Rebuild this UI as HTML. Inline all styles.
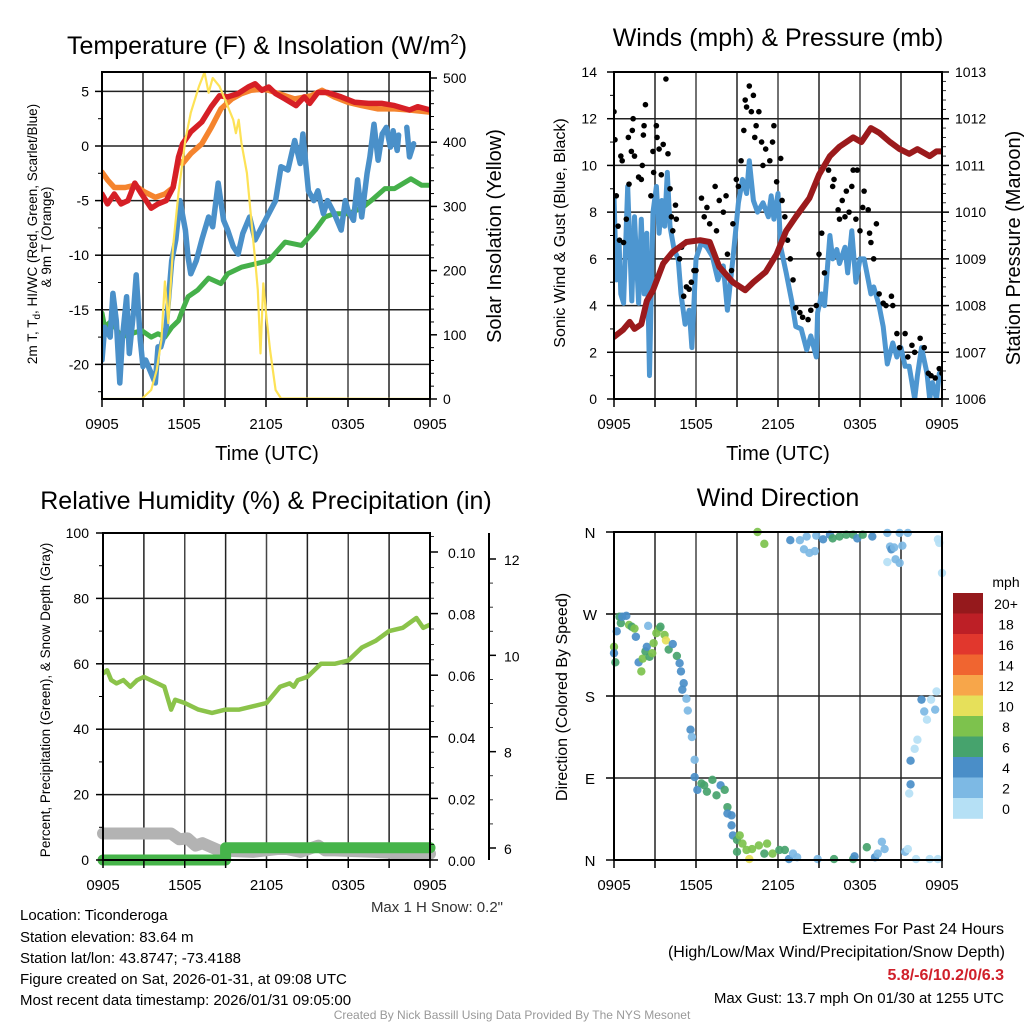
<!DOCTYPE html>
<html><head><meta charset="utf-8"><style>
html,body{margin:0;padding:0;background:#fff}
svg text{font-family:"Liberation Sans",Arial,sans-serif;fill:#000}
</style></head><body>
<svg id="svg" width="1024" height="1024" viewBox="0 0 1024 1024" xmlns="http://www.w3.org/2000/svg">
<defs>
<clipPath id="c1"><rect x="102" y="72" width="328" height="327"/></clipPath>
<clipPath id="c2"><rect x="614" y="72" width="328" height="327"/></clipPath>
<clipPath id="c3"><rect x="96" y="527" width="340" height="340"/></clipPath>
<clipPath id="c4"><rect x="608" y="526" width="340" height="340"/></clipPath>
</defs>
</svg>
<script>
// ---------- DATA (hours since 0905 UTC) ----------
const xTicks=["0905","1505","2105","0305","0905"];
// Temperature panel
const redH=[0,0.4,0.9,1.4,1.9,2.4,2.9,3.6,4.1,4.7,5.2,5.6,5.9,6.5,7.3,8.0,8.6,9.2,9.96,10.7,11.2,11.7,12.2,12.7,13.4,14.2,14.8,15.2,15.8,16.5,17.5,18.5,19.5,20.5,21.4,22.5,23.1,24];
const redT=[-4.4,-5.3,-4.4,-5.3,-5,-3.4,-4.4,-5.7,-5.3,-5,-3.8,-1,0.2,1.3,2.2,3.6,4.6,4.5,4.8,5.4,5.7,5.1,5.4,4.8,4.3,3.7,4.5,3.9,4.9,4.9,4.5,4.0,3.9,3.9,3.7,3.3,3.6,3.3];
const orH=[0,0.4,0.9,1.7,2.4,3.1,3.9,4.6,5.2,5.6,5.9,6.5,7.3,8.0,8.7,9.5,10.2,10.9,11.7,12.2,14.1,15.3,16.1,17.0,18.0,19.0,20.2,21.4,22.5,24];
const orT=[-2.4,-3.1,-3.8,-3.8,-3.6,-4.2,-4.7,-4.4,-3.8,-1.3,-1.6,-0.7,0.2,1.7,3.4,4.3,4.8,5.1,5.2,5.1,4.3,4.6,5.1,4.5,4.0,3.7,3.4,3.4,3.3,3.1];
const tdH=[0,0.2,0.7,1.4,2.1,2.9,3.6,4.1,4.6,5.1,5.6,5.9,6.3,7.0,7.8,8.7,9.2,10.2,11.2,12.2,13.4,14.6,15.6,16.3,17.0,18.0,19.0,19.7,20.7,21.4,22.6,23.4,24];
const tdT=[-15.3,-16.6,-16,-17.5,-17.2,-16.9,-17.5,-17.2,-17.5,-16.6,-16,-15,-13.8,-13.2,-12.1,-12.6,-11.7,-11.1,-10.8,-10.5,-8.8,-9.1,-7.7,-6.5,-6.2,-6.2,-5.7,-5.0,-3.9,-3.9,-3.0,-3.6,-3.6];
const wcH=[0,0.2,0.6,0.8,1.05,1.3,1.5,1.8,2.0,2.3,2.5,2.8,3.0,3.2,3.5,3.9,4.1,4.3,4.7,5.1,5.4,5.7,6.1,6.3,6.5,6.9,7.3,7.8,8.1,8.5,8.9,9.2,9.6,9.96,10.3,10.8,11.2,11.7,12.2,12.7,13.1,13.6,14.1,14.5,14.7,15.1,15.5,15.8,16.2,16.5,17.0,17.5,17.8,18.0,18.4,18.7,19.0,19.4,19.6,19.9,20.2,20.5,20.8,21.1,21.3,21.6,21.7];
const wcT=[-19.6,-16.6,-17.5,-13.5,-16,-21.7,-17.5,-13.8,-19,-15.3,-11.8,-17.8,-20.2,-19.6,-20.5,-21.7,-18.4,-18.4,-16.6,-10.5,-8.6,-5,-7.7,-10.2,-11.7,-10.5,-8.6,-6.5,-7.4,-3.4,-6.8,-7.7,-9.2,-9.9,-8,-6.5,-8.6,-7.4,-6.2,-5,-1.9,-2.2,0.5,-1.6,1.1,-4.1,-5,-4.1,-6.2,-5,-6.2,-7.7,-5,-5.9,-6.8,-3.1,-6.5,-2.5,-1,2,-1.3,1.1,1.7,-0.1,1.4,-0.4,1.0];
const wc2H=[22.3,22.5,22.8];
const wc2T=[1.7,-1,0.2];
const solH=[0,2.9,3.6,4.0,4.35,4.6,4.85,5.2,5.6,6.1,6.5,7.1,7.5,7.8,8.1,8.6,9.1,9.6,9.8,10.0,10.2,10.6,10.9,11.2,11.4,11.6,11.8,12.0,12.3,12.7,13.1,24];
const solV=[0,0,14,45,92,183,118,238,321,404,446,487,509,477,500,487,461,435,414,435,399,352,284,217,170,71,180,134,76,14,1,0];
// Winds panel
const presH=[0,0.66,1.15,1.5,2,2.4,2.85,3.6,4.3,5.3,6.3,7,7.7,8.7,9.6,10.2,11.1,11.9,12.6,13.3,14.3,15.0,15.8,16.5,17.5,18.1,18.8,19.4,20.2,20.9,21.6,22.2,23.1,23.6,24];
const presV=[1007.33,1007.48,1007.65,1007.5,1007.6,1008.1,1008.33,1008.9,1009.15,1009.36,1009.4,1009.36,1008.83,1008.5,1008.33,1008.5,1008.72,1009.1,1009.6,1009.9,1010.3,1010.8,1011.2,1011.4,1011.6,1011.5,1011.8,1011.7,1011.5,1011.35,1011.25,1011.35,1011.2,1011.3,1011.3];
const windH=[0,0.17,0.37,0.5,0.7,1.0,1.3,1.5,1.8,2.0,2.2,2.4,2.6,2.85,3.1,3.3,3.5,3.7,3.9,4.1,4.4,4.7,4.9,5.2,5.5,5.7,6.0,6.4,6.8,7.2,7.6,8.0,8.3,8.7,9.1,9.4,9.7,9.9,10.2,10.5,10.9,11.3,11.5,11.7,12.0,12.2,12.6,13.0,13.3,13.7,14.1,14.4,14.8,14.9,15.2,15.4,15.8,16.0,16.3,16.5,16.9,17.1,17.4,17.7,18.0,18.3,18.6,18.8,19.0,19.4,19.7,20.0,20.4,20.7,21.0,21.3,21.6,22.0,22.2,22.5,22.9,23.1,23.3,23.6,23.8,24];
const windV=[8.7,5.1,6.7,4.5,4.1,9.1,4.2,7.8,4.1,7.7,4.5,7.1,1.0,8.0,9.1,7.1,8.5,7.4,9.7,7.4,6.4,6.0,4.5,3.2,3.8,2.2,6.0,6.7,6.5,6.1,5.1,5.7,3.8,6.0,8.4,9.4,8.8,10.2,8.5,8.0,8.4,7.8,8.7,7.7,8.8,6.5,5.4,4.2,3.1,3.0,2.1,2.7,1.8,3.7,4.5,4.0,7.0,6.0,6.4,5.8,6.5,5.4,7.2,5.0,6.0,6.0,5.1,4.5,4.8,4.0,3.1,1.5,2.4,1.8,2.2,1.4,1.4,0,1.0,2.2,1.1,0,0.7,0,1.1,0.8];
const gustH=[0,0.07,0.17,0.3,0.4,0.5,0.6,0.7,0.9,1.05,1.1,1.27,1.34,1.4,1.5,1.8,2.0,2.07,2.2,2.15,2.3,2.7,2.85,2.9,3.1,3.15,3.3,3.46,3.6,3.8,3.95,4.1,4.2,4.3,4.5,4.56,4.8,4.95,5.1,5.3,5.5,5.66,5.85,6.0,6.4,6.6,6.8,7.0,7.4,7.5,7.7,8.0,8.2,8.3,8.6,8.7,8.95,9.1,9.3,9.5,9.6,9.7,9.9,10.05,10.2,10.3,10.4,10.6,10.8,10.9,11.1,11.4,11.6,11.7,11.9,12.2,12.3,12.5,12.7,12.9,13.1,13.3,13.6,13.8,14.2,14.4,14.8,15.0,15.2,15.4,15.7,16.0,16.1,16.4,16.5,16.7,16.9,17.0,17.2,17.4,17.5,17.7,17.8,18.0,18.2,18.3,18.6,18.7,18.8,19.0,19.2,19.4,19.7,19.9,20.3,20.4,20.7,20.9,21.3,21.5,21.8,22.0,22.4,22.7,23.0,23.2,23.5,23.8,24];
const gustV=[12.3,11.1,8.7,7.4,6.8,10.4,10.2,6.7,7.7,11.2,9.2,10.6,11.5,12.0,10.4,9.5,9.4,10.0,11.7,11.3,12.6,8.7,10.6,9.7,11.7,11.2,10.7,9.6,10.9,13.7,10.5,9.0,7.8,7.2,8.3,7.7,6.0,6.5,4.4,4.8,4.7,5.0,5.5,5.5,8.6,7.8,8.2,7.5,9.1,7.2,8.5,8.0,8.7,6.2,5.5,7.5,9.4,9.1,10.2,11.5,12.8,12.5,13.4,12.3,13.0,11.2,11.7,12.3,11.0,10.0,10.7,10.2,11.0,11.7,9.3,10.3,8.5,7.8,6.8,6.0,5.1,3.9,3.7,3.5,3.4,3.8,4.0,6.2,7.1,5.4,9.8,9.1,9.4,8.1,7.7,8.5,7.8,8.9,8.0,9.1,9.8,7.7,9.8,7.2,8.2,8.9,8.1,7.1,6.7,6.0,7.5,4.5,4.1,4.0,4.4,4.0,2.8,2.2,2.8,1.8,2.3,2.0,2.6,2.2,1.1,1.0,0.9,1.3,1.1];
// RH panel
const rhH=[0,0.3,0.6,1,1.5,2,2.5,3,3.5,4,4.5,5,5.3,6,7,8,9,10,11,12,13,13.7,14,14.3,15,16,17,18,19,20,21,22,23,23.5,24];
const rhV=[57,58,55,54,55,53,55,56,55,54,53,46,49,48,46,45,46,46,47,48,53,54,53,55,56,60,60,61,65,67,70,71,74,71,72];
const precipH=[0,9.0,9.0,24];
const precipV=[0,0,0.004,0.004];
const snowH=[0,5.0,5.6,6.2,6.8,7.3,8.5,11,12.8,13.5,14.5,15.8,16.3,17,20,22,24];
const snowV=[6.3,6.3,6.18,6.2,6.05,6.1,5.95,5.92,5.98,5.98,5.92,6.05,5.95,5.95,5.92,5.88,5.88];
// Wind direction panel
const dirH=[0,0,0.1,0.2,0.4,0.5,0.6,0.9,1.1,1.3,1.5,1.6,1.8,2.0,2.1,2.3,2.4,2.5,2.6,2.8,2.9,3.1,3.3,3.4,3.7,3.8,4.0,4.3,4.6,4.8,4.9,5.1,5.0,5.3,5.4,5.6,5.7,5.9,5.9,6.1,6.4,6.6,6.8,7.2,7.5,7.8,8.1,8.3,8.3,8.6,8.6,8.7,9.0,9.2,9.4,9.0,9.7,9.9,10.1,10.6,11.0,11.2,11.6,12.1,12.5,12.8,13.1,13.4,14.9,16.1,17.5,17.6,18.5,19.1,19.3,19.6,19.8,21.3,21.5,22.1,23.1,23.7,21.6,21.7,21.7,22.0,22.2,22.5,22.7,22.9,23.2,23.5,23.6,24.0,23.8,23.7,10.5,11.0,12.9,13.6,13.9,14.3,14.1,14.7,14.8,15.3,15.8,16.0,16.5,17.0,17.5,17.8,18.2,18.9,20.0,20.2,20.3,20.5,20.0,20.6,20.9,20.9,21.1,21.5];
const dirV=[234,227,217,251,267,260,267,268,258,256,254,245,217,207,221,229,234,257,223,227,238,249,254,256,247,241,231,237,224,216,207,194,187,177,164,143,135,110,91,77,84,82,75,88,71,82,77,58,51,49,38,27,22,27,18,9,11,1,12,16,7,18,7,11,11,1,7,3,1,1,1,4,14,3,7,20,12,9,12,1,1,1,73,83,109,122,132,176,163,154,176,165,185,315,348,352,360,347,351,351,341,337,355,339,356,352,357,353,355,357,357,353,357,355,359,344,341,343,327,330,326,359,345,359];
const dirS=[8,4,6,4,6,6,4,4,8,6,8,4,4,8,8,6,4,2,6,8,8,8,8,6,8,10,6,4,6,4,4,4,4,2,2,4,2,2,4,4,6,6,6,6,6,4,6,6,4,4,4,4,6,8,8,6,8,10,8,8,6,8,8,6,6,4,2,2,2,6,6,4,6,4,2,2,2,2,0,0,0,0,0,4,4,0,0,4,2,0,0,2,0,0,0,0,8,8,4,2,2,2,2,2,2,4,4,6,6,6,6,4,6,4,2,2,4,2,0,2,2,2,2,2];
const cbLabels=["20+","18","16","14","12","10","8","6","4","2","0"];
const cbColors=["#95191c","#bd1f26","#e1372d","#f06530","#f7a64a","#e6e05a","#7dc24d","#46a36d","#4a8ec8","#7db9e4","#b5e0f5"];

// ---------- helpers ----------
const NS="http://www.w3.org/2000/svg";
const svg=document.getElementById('svg');
function mk(tag,attrs,parent){const e=document.createElementNS(NS,tag);for(const k in attrs)e.setAttribute(k,attrs[k]);(parent||svg).appendChild(e);return e;}
function txt(s,x,y,size,anchor,extra){const e=mk('text',Object.assign({x:x,y:y,'font-size':size,'text-anchor':anchor||'start'},extra||{}));e.textContent=s;return e;}
function panelX(x0,x1){return h=>x0+(x1-x0)*h/24;}
function lin(v0,p0,v1,p1){return v=>p0+(v-v0)*(p1-p0)/(v1-v0);}
function pathD(hs,vs,fx,fy){return hs.map((h,i)=>(i?'L':'M')+fx(h).toFixed(1)+','+fy(vs[i]).toFixed(1)).join('');}
function grid(g,x0,x1,y0,y1,ys){
  for(let k=0;k<=8;k++){const x=x0+(x1-x0)*k/8;const l=mk('line',{x1:x,y1:y0,x2:x,y2:y1,stroke:k%2?'#222':'#444','stroke-width':1.5},g);}
  ys.forEach(y=>{const l=mk('line',{x1:x0,y1:y,x2:x1,y2:y,stroke:'#222','stroke-width':1.5},g);});
}
function frame(g,x0,x1,y0,y1){const r=mk('rect',{x:x0,y:y0,width:x1-x0,height:y1-y0,fill:'none',stroke:'#000','stroke-width':2},g);}
function xAxis(g,x0,x1,y1){
  for(let k=0;k<=8;k++){const x=x0+(x1-x0)*k/8;mk('line',{x1:x,y1:y1,x2:x,y2:y1+8,stroke:'#000','stroke-width':1.5},g);}
  xTicks.forEach((t,i)=>{const e=txt(t,x0+(x1-x0)*i/4,y1+30,15,'middle');});
}

// ===== Panel 1: Temperature =====
(function(){
  const g=mk('g',{});
  const X0=102,X1=430,Y0=72,Y1=399;
  const fx=panelX(X0,X1), fy=lin(0,146,5,91.4), fs=lin(0,399,500,78);
  grid(g,X0,X1,Y0,Y1,[-20,-15,-10,-5,0,5].map(fy));
  const cg=mk('g',{'clip-path':'url(#c1)'},g);
  const lines=[[solH,solV,fs,'#fde256',2.2,'solar-insolation-line'],[tdH,tdT,fy,'#45b04a',5,'dewpoint-line'],[wcH,wcT,fy,'#4a90c9',5.5,'wind-chill-line'],[wc2H,wc2T,fy,'#4a90c9',5.5,'wind-chill-line-end'],[orH,orT,fy,'#f5842e',5.5,'temp-9m-line'],[redH,redT,fy,'#d61f26',5.5,'temp-2m-line']];
  const order=[1,2,3,4,5,0];
  order.forEach(i=>{const L=lines[i];const p=mk('path',{d:pathD(L[0],L[1],fx,L[2]),fill:'none',stroke:L[3],'stroke-width':L[4],'stroke-linejoin':'round','stroke-linecap':'round'},cg);});
  frame(g,X0,X1,Y0,Y1);
  xAxis(g,X0,X1,Y1);
  [-20,-15,-10,-5,0,5].forEach(v=>{mk('line',{x1:X0-7,y1:fy(v),x2:X0,y2:fy(v),stroke:'#000','stroke-width':1.5},g);const e=txt(String(v),X0-13,fy(v)+5,14,'end');});
  for(let v=-22.5;v<7;v+=5){mk('line',{x1:X0-4,y1:fy(v),x2:X0,y2:fy(v),stroke:'#000','stroke-width':1},g);}
  [0,100,200,300,400,500].forEach(v=>{mk('line',{x1:X1,y1:fs(v),x2:X1+7,y2:fs(v),stroke:'#000','stroke-width':1.5},g);const e=txt(String(v),X1+13,fs(v)+5,14,'start');});
  for(let v=20;v<510;v+=20){if(v%100)mk('line',{x1:X1,y1:fs(v),x2:X1+4,y2:fs(v),stroke:'#000','stroke-width':1},g);}
  let t=mk('text',{x:267,y:54,'font-size':25,'text-anchor':'middle'},g);t.innerHTML='Temperature (F) &amp; Insolation (W/m<tspan dy="-10" font-size="15">2</tspan><tspan dy="10">)</tspan>';
  t=txt('Time (UTC)',267,460,20,'middle');
  t=mk('text',{x:0,y:0,'font-size':13.5,'text-anchor':'middle',transform:'translate(37,234) rotate(-90)'},g);t.innerHTML='2m T, T<tspan dy="3" font-size="10">d</tspan><tspan dy="-3">, HI/WC (Red, Green, Scarlet/Blue)</tspan>';
  t=mk('text',{x:0,y:0,'font-size':13.5,'text-anchor':'middle',transform:'translate(51,237) rotate(-90)'},g);t.textContent='& 9m T (Orange)';
  t=mk('text',{x:0,y:0,'font-size':20,'text-anchor':'middle',transform:'translate(501,236) rotate(-90)'},g);t.textContent='Solar Insolation (Yellow)';
})();

// ===== Panel 2: Winds =====
(function(){
  const g=mk('g',{});
  const X0=614,X1=942,Y0=72,Y1=399;
  const fx=panelX(X0,X1), fy=lin(0,399,14,72), fp=lin(1006,399,1013,72);
  grid(g,X0,X1,Y0,Y1,[2,4,6,8,10,12].map(fy));
  const cg=mk('g',{'clip-path':'url(#c2)'},g);
  let p=mk('path',{d:pathD(windH,windV,fx,fy),fill:'none',stroke:'#4d96d0','stroke-width':5,'stroke-linejoin':'round'},cg);
  gustH.forEach((h,i)=>{const c=mk('circle',{cx:fx(h),cy:fy(gustV[i]),r:2.8,fill:'#000'},cg);});
  p=mk('path',{d:pathD(presH,presV,fx,fp),fill:'none',stroke:'#9b1a1c','stroke-width':6,'stroke-linejoin':'round','stroke-linecap':'round'},cg);
  frame(g,X0,X1,Y0,Y1);
  xAxis(g,X0,X1,Y1);
  [0,2,4,6,8,10,12,14].forEach(v=>{mk('line',{x1:X0-7,y1:fy(v),x2:X0,y2:fy(v),stroke:'#000','stroke-width':1.5},g);const e=txt(String(v),X0-17,fy(v)+5,14,'end');});
  for(let v=1;v<14;v+=2)mk('line',{x1:X0-4,y1:fy(v),x2:X0,y2:fy(v),stroke:'#000','stroke-width':1},g);
  for(let v=1006;v<=1013;v++){mk('line',{x1:X1,y1:fp(v),x2:X1+7,y2:fp(v),stroke:'#000','stroke-width':1.5},g);const e=txt(String(v),X1+13,fp(v)+5,14,'start');}
  for(let v=1006.2;v<1013;v+=0.2){mk('line',{x1:X1,y1:fp(v),x2:X1+4,y2:fp(v),stroke:'#000','stroke-width':0.8},g);}
  let t=txt('Winds (mph) & Pressure (mb)',778,46,25,'middle');
  t=txt('Time (UTC)',778,460,20,'middle');
  t=mk('text',{x:0,y:0,'font-size':16,'text-anchor':'middle',transform:'translate(565,233) rotate(-90)'},g);t.textContent='Sonic Wind & Gust (Blue, Black)';
  t=mk('text',{x:0,y:0,'font-size':20,'text-anchor':'middle',transform:'translate(1020,248) rotate(-90)'},g);t.textContent='Station Pressure (Maroon)';
})();

// ===== Panel 3: RH =====
(function(){
  const g=mk('g',{});
  const X0=103,X1=430,Y0=533,Y1=860;
  const fx=panelX(X0,X1), fy=lin(0,860,100,533), fpr=lin(0,860,0.1,552), fsn=lin(6,848,12,559);
  grid(g,X0,X1,Y0,Y1,[20,40,60,80].map(fy));
  const cg=mk('g',{'clip-path':'url(#c3)'},g);
  let p=mk('path',{d:pathD(snowH,snowV,fx,fsn),fill:'none',stroke:'#b3b3b3','stroke-width':12,'stroke-linejoin':'round','stroke-linecap':'round'},cg);
  p=mk('path',{d:pathD(precipH,precipV,fx,fpr),fill:'none',stroke:'#46b44a','stroke-width':11,'stroke-linejoin':'round','stroke-linecap':'round'},cg);
  p=mk('path',{d:pathD(rhH,rhV,fx,fy),fill:'none',stroke:'#8bc34a','stroke-width':4.5,'stroke-linejoin':'round'},cg);
  frame(g,X0,X1,Y0,Y1);
  xAxis(g,X0,X1,Y1);
  [0,20,40,60,80,100].forEach(v=>{mk('line',{x1:X0-7,y1:fy(v),x2:X0,y2:fy(v),stroke:'#000','stroke-width':1.5},g);const e=txt(String(v),X0-14,fy(v)+5,14,'end');});
  for(let v=10;v<100;v+=20)mk('line',{x1:X0-4,y1:fy(v),x2:X0,y2:fy(v),stroke:'#000','stroke-width':1},g);
  [0,0.02,0.04,0.06,0.08,0.10].forEach(v=>{mk('line',{x1:X1,y1:fpr(v),x2:X1+8,y2:fpr(v),stroke:'#000','stroke-width':1.5},g);const e=txt(v.toFixed(2),X1+18,fpr(v)+6,14,'start');});
  for(let v=0.005;v<0.108;v+=0.005){mk('line',{x1:X1,y1:fpr(v),x2:X1+4,y2:fpr(v),stroke:'#000','stroke-width':0.8},g);}
  const ax=mk('line',{x1:489,y1:533,x2:489,y2:860,stroke:'#000','stroke-width':2},g);
  [6,8,10,12].forEach(v=>{mk('line',{x1:489,y1:fsn(v),x2:496,y2:fsn(v),stroke:'#000','stroke-width':1.5},g);const e=txt(String(v),504,fsn(v)+6,14,'start');});
  for(let v=6.5;v<12.5;v+=0.5){if(v%2)mk('line',{x1:489,y1:fsn(v),x2:493,y2:fsn(v),stroke:'#000','stroke-width':0.8},g);}
  let t=txt('Relative Humidity (%) & Precipitation (in)',266,509,25,'middle');
  t=mk('text',{x:0,y:0,'font-size':13.5,'text-anchor':'middle',transform:'translate(50,700) rotate(-90)'},g);t.textContent='Percent, Precipitation (Green), & Snow Depth (Gray)';
  t=txt('Max 1 H Snow: 0.2"',503,912,15,'end',{style:'fill:#333'});
})();

// ===== Panel 4: Wind direction =====
(function(){
  const g=mk('g',{});
  const X0=614,X1=942,Y0=532,Y1=860;
  const fx=panelX(X0,X1), fy=lin(0,860,360,532);
  grid(g,X0,X1,Y0,Y1,[90,180,270].map(fy));
  const cg=mk('g',{'clip-path':'url(#c4)'},g);
  dirH.forEach((h,i)=>{const idx=Math.min(10,Math.round(dirS[i]/2));const c=mk('circle',{cx:fx(h),cy:fy(dirV[i]),r:4.2,fill:cbColors[10-idx],'fill-opacity':0.92},cg);});
  frame(g,X0,X1,Y0,Y1);
  xAxis(g,X0,X1,Y1);
  const dl=["N","E","S","W","N"];
  [0,90,180,270,360].forEach((v,i)=>{mk('line',{x1:X0-8,y1:fy(v),x2:X0,y2:fy(v),stroke:'#000','stroke-width':1.5},g);const e=txt(dl[i],X0-24,fy(v)+6,15,'middle');});
  let t=txt('Wind Direction',778,506,25,'middle');
  t=mk('text',{x:0,y:0,'font-size':16,'text-anchor':'middle',transform:'translate(567,697) rotate(-90)'},g);t.textContent='Direction (Colored By Speed)';
  const lg=mk('g',{},g);
  cbColors.forEach((c,i)=>{const r=mk('rect',{x:953,y:593+i*20.5,width:30,height:20.8,fill:c},lg);const e=txt(cbLabels[i],1006,593+i*20.5+16,14,'middle');});
  t=txt('mph',1006,587,14,'middle');
})();

// ===== Footer text =====
(function(){
  const L=[["Location: Ticonderoga",920,'location-text'],["Station elevation: 83.64 m",942,'elevation-text'],["Station lat/lon: 43.8747; -73.4188",963,'latlon-text'],["Figure created on Sat, 2026-01-31, at 09:08 UTC",984,'created-text'],["Most recent data timestamp: 2026/01/31 09:05:00",1005,'timestamp-text']];
  L.forEach(a=>{const e=txt(a[0],20,a[1],15,'start');});
  let e=txt('Extremes For Past 24 Hours',1004,934,16,'end');
  e=txt('(High/Low/Max Wind/Precipitation/Snow Depth)',1005,957,16,'end');
  e=txt('5.8/-6/10.2/0/6.3',1004,980,16,'end',{'font-weight':'bold',style:'fill:#d0202a'});
  e=txt('Max Gust: 13.7 mph On 01/30 at 1255 UTC',1004,1003,15,'end');
  e=txt('Created By Nick Bassill Using Data Provided By The NYS Mesonet',512,1019,12,'middle',{style:'fill:#999'});
})();
</script>
</body></html>
